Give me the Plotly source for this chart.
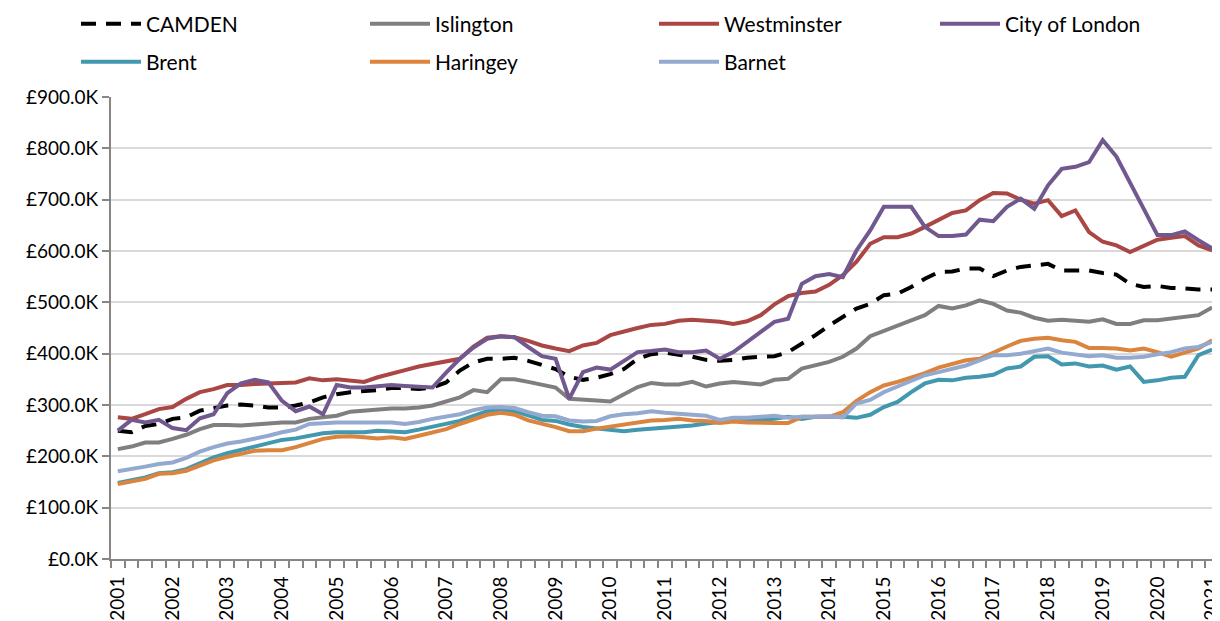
import plotly.graph_objects as go

# Quarterly average house prices (£ thousands), 2001 Q1 .. 2021 Q1
years = [str(y) for y in range(2001, 2022)]
quarters = [f"{2001 + i // 4} Q{i % 4 + 1}" for i in range(81)]

camden = [250, 247, 259, 263, 273, 276, 289, 295, 299, 301, 299, 295, 295, 299, 305, 315,
          321, 325, 327, 329, 333, 333, 331, 334, 344, 367, 383, 390, 390, 392, 386, 377,
          370, 355, 349, 353, 360, 370, 390, 399, 402, 398, 394, 388, 386, 388, 392, 394,
          395, 403, 419, 436, 455, 471, 488, 497, 514, 517, 530, 546, 559, 560, 566, 566,
          551, 562, 569, 572, 575, 562, 562, 562, 557, 554, 536, 530, 532, 528, 527, 525, 525]
islington = [214, 219, 227, 227, 234, 242, 253, 261, 261, 260, 262, 264, 266, 266, 273, 276,
             279, 287, 289, 290, 293, 293, 295, 299, 307, 315, 329, 325, 350, 350, 345, 340,
             334, 312, 311, 309, 307, 322, 335, 343, 340, 340, 345, 336, 342, 345, 343, 340,
             349, 351, 371, 377, 384, 394, 410, 434, 445, 455, 465, 475, 493, 488, 494, 504,
             497, 484, 480, 470, 464, 466, 464, 462, 467, 458, 458, 465, 465, 468, 471, 475, 490]
westminster = [276, 273, 282, 292, 296, 312, 325, 331, 339, 339, 341, 342, 343, 344, 352, 348,
               350, 347, 345, 354, 362, 368, 375, 380, 386, 390, 414, 431, 434, 432, 425, 416,
               410, 405, 416, 421, 436, 444, 450, 456, 458, 464, 466, 464, 462, 458, 463, 475,
               496, 512, 518, 521, 534, 553, 579, 614, 627, 627, 634, 647, 660, 674, 679, 699,
               713, 712, 700, 692, 699, 668, 679, 637, 618, 611, 598, 611, 622, 626, 629, 611, 601]
city_of_london = [250, 271, 266, 271, 255, 251, 274, 282, 323, 342, 349, 344, 308, 288, 297, 282,
                  339, 334, 334, 336, 339, 337, 336, 334, 363, 390, 412, 429, 434, 432, 413, 395,
                  390, 312, 364, 373, 369, 387, 403, 405, 408, 403, 403, 406, 390, 403, 423, 442,
                  462, 468, 536, 551, 555, 549, 601, 640, 686, 686, 686, 647, 629, 629, 632, 661,
                  658, 686, 702, 682, 728, 760, 764, 773, 816, 784, 734, 684, 631, 631, 638, 621, 605]
brent = [148, 153, 159, 167, 169, 175, 187, 198, 206, 213, 219, 225, 232, 235, 240, 245,
         247, 247, 247, 250, 249, 247, 252, 258, 263, 269, 279, 288, 291, 288, 280, 271,
         269, 262, 257, 254, 252, 249, 252, 254, 255, 257, 260, 264, 267, 270, 271, 271,
         273, 277, 273, 277, 277, 277, 275, 281, 296, 306, 325, 342, 349, 348, 353, 355,
         359, 371, 375, 394, 395, 379, 381, 375, 377, 369, 375, 345, 348, 353, 355, 397, 408]
haringey = [146, 151, 156, 166, 167, 172, 182, 192, 199, 205, 211, 212, 212, 218, 227, 234,
            238, 239, 237, 235, 237, 234, 240, 247, 253, 263, 273, 281, 285, 281, 270, 264,
            257, 249, 249, 254, 258, 262, 267, 270, 271, 273, 270, 269, 265, 268, 266, 265,
            265, 265, 277, 277, 277, 286, 308, 325, 338, 345, 353, 362, 373, 380, 387, 390,
            403, 414, 425, 429, 431, 426, 423, 411, 411, 410, 406, 410, 403, 394, 402, 410, 426]
barnet = [171, 175, 180, 185, 188, 197, 209, 218, 225, 229, 234, 240, 247, 252, 263, 265,
          266, 266, 266, 266, 266, 263, 267, 273, 278, 282, 290, 295, 296, 294, 286, 279,
          278, 270, 268, 269, 278, 282, 284, 288, 285, 283, 281, 279, 271, 275, 275, 277,
          279, 275, 277, 277, 278, 276, 303, 310, 325, 336, 348, 358, 364, 371, 377, 387,
          397, 397, 400, 405, 410, 402, 398, 395, 397, 392, 392, 394, 399, 403, 410, 413, 423]

series = [
    ("CAMDEN", camden, "#000000", "15px,10px", "legend"),
    ("Islington", islington, "#7F7F7F", "solid", "legend"),
    ("Westminster", westminster, "#AA4643", "solid", "legend"),
    ("City of London", city_of_london, "#71588F", "solid", "legend3"),
    ("Brent", brent, "#4198AF", "solid", "legend2"),
    ("Haringey", haringey, "#DB843D", "solid", "legend2"),
    ("Barnet", barnet, "#93A9CF", "solid", "legend2"),
]

x = list(range(len(quarters)))
fig = go.Figure()
for name, vals, color, dash, leg in series:
    fig.add_trace(go.Scatter(
        x=x, y=vals, name=name, mode="lines", text=quarters, legend=leg,
        line=dict(color=color, width=4, dash=dash),
        hovertemplate="%{text}: £%{y:.1f}K<extra>" + name + "</extra>",
    ))

font_family = "Lato, 'Liberation Sans', sans-serif"
W, H = 1220, 621
legend_common = dict(
    orientation="h", xref="container", yref="container",
    xanchor="left", yanchor="middle",
    entrywidth=214, entrywidthmode="pixels",
    font=dict(size=21), bgcolor="rgba(0,0,0,0)", itemwidth=60,
)
x0 = 68
fig.update_layout(
    width=W, height=H,
    margin=dict(l=103, r=9, t=89, b=70, autoexpand=False),
    paper_bgcolor="white", plot_bgcolor="white",
    font=dict(family=font_family, size=19, color="#000000"),
    legend=dict(legend_common, x=x0 / W, y=1 - 16 / H),
    legend3=dict(legend_common, x=(x0 + 859) / W, y=1 - 16 / H),
    legend2=dict(legend_common, x=x0 / W, y=1 - 54 / H),
    showlegend=True,
)
fig.update_xaxes(
    range=[-0.5, len(quarters) - 0.5], automargin=False,
    tickmode="array", tickvals=[4 * i for i in range(len(years))], ticktext=years,
    tickangle=-90, ticks="", showgrid=False, zeroline=False, ticklabelstandoff=8,
    showline=True, linecolor="#868686", linewidth=2,
    minor=dict(tickmode="array", tickvals=[i - 0.5 for i in range(len(quarters) + 1)],
               ticks="outside", ticklen=7, tickcolor="#868686", tickwidth=1.5, showgrid=False),
    tickfont=dict(size=19),
)
fig.update_yaxes(
    range=[0, 900], dtick=100, tick0=0, automargin=False,
    tickprefix="£", ticksuffix="K", tickformat=".1f",
    showgrid=True, gridcolor="#D9D9D9", gridwidth=2,
    zeroline=False, showline=True, linecolor="#868686", linewidth=2,
    ticks="outside", ticklen=7, tickcolor="#868686", tickwidth=1.5,
    tickfont=dict(size=19),
)

fig.write_html("out.html")
